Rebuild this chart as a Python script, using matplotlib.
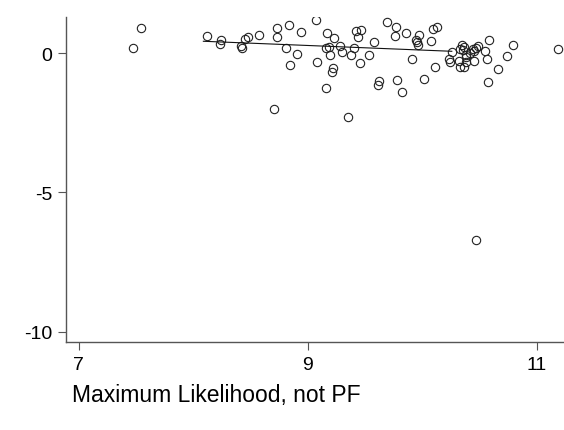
import matplotlib.pyplot as plt
import numpy as np

plt.rcParams['font.family'] = ['Liberation Sans', 'DejaVu Sans']

# scatter points
x_ml = [7.548, 7.475, 8.121, 8.243, 8.237, 8.423, 8.429, 8.452, 8.481, 8.577,
        8.731, 8.731, 8.839, 8.947, 8.816, 8.912, 8.845, 9.072, 8.705, 9.170,
        9.235, 9.420, 9.470, 9.444, 9.580, 9.697, 9.769, 9.763, 9.863, 9.970,
        9.950, 9.959, 9.967, 10.075, 10.092, 10.127, 9.159, 9.188, 9.196, 9.287,
        9.301, 9.377, 9.403, 9.540, 9.083, 9.456, 9.222, 9.214, 9.161, 9.627,
        9.612, 9.781, 9.828, 9.357, 9.911, 10.016, 10.112, 10.258, 10.234, 10.246,
        10.351, 10.365, 10.334, 10.360, 10.386, 10.383, 10.386, 10.321, 10.334, 10.369,
        10.415, 10.444, 10.467, 10.487, 10.458, 10.458, 10.548, 10.569, 10.583, 10.578,
        10.662, 10.740, 10.793, 11.188, 10.470]
y_ml = [0.909, 0.180, 0.610, 0.490, 0.334, 0.262, 0.180, 0.524, 0.596, 0.647,
        0.898, 0.575, 1.017, 0.765, 0.180, -0.025, -0.420, 1.196, -2.010, 0.740,
        0.560, 0.810, 0.837, 0.596, 0.417, 1.124, 0.934, 0.610, 0.740, 0.668,
        0.478, 0.417, 0.309, 0.442, 0.873, 0.945, 0.190, 0.237, -0.061, 0.262,
        0.057, -0.050, 0.190, -0.061, -0.300, -0.348, -0.539, -0.682, -1.257, -1.006,
        -1.149, -0.970, -1.379, -2.299, -0.216, -0.912, -0.492, 0.036, -0.205, -0.302,
        0.298, 0.216, 0.154, 0.108, -0.061, -0.133, -0.312, -0.266, -0.503, -0.503,
        0.011, 0.154, 0.200, 0.273, 0.072, -0.287, 0.072, -0.205, 0.478, -1.020,
        -0.553, -0.108, 0.287, 0.154, -6.710]

# fitted line end points
fit_x = [8.09, 10.26]
fit_y = [0.43, 0.07]

xticks = [7, 9, 11]
yticks = [-10, -5, 0]

fig = plt.figure(figsize=(5.64, 4.31), dpi=100)
ax = fig.add_axes([0.117, 0.2035, 0.883, 0.754])

ax.plot(x_ml, y_ml, linestyle='none', marker='o', markersize=6,
        markerfacecolor='none', markeredgecolor='#222222', markeredgewidth=0.8)
ax.plot(fit_x, fit_y, color='#111111', linewidth=0.8)

ax.set_xlim(6.89, 11.24)
ax.set_ylim(-10.38, 1.29)
ax.set_xticks(xticks)
ax.set_yticks(yticks)
ax.set_xticklabels([str(t) for t in xticks])
ax.set_yticklabels([str(t) for t in yticks])

for s in ['top', 'right']:
    ax.spines[s].set_visible(False)
for s in ['left', 'bottom']:
    ax.spines[s].set_color('#555555')
    ax.spines[s].set_linewidth(1.0)
ax.tick_params(axis='both', colors='#555555', labelcolor='black',
               labelsize=14, length=6, width=0.8, pad=4)

fig.text(0.128, 0.067, "Maximum Likelihood, not PF", fontsize=16.5,
         va='baseline')

plt.savefig("out.png", dpi=100)
